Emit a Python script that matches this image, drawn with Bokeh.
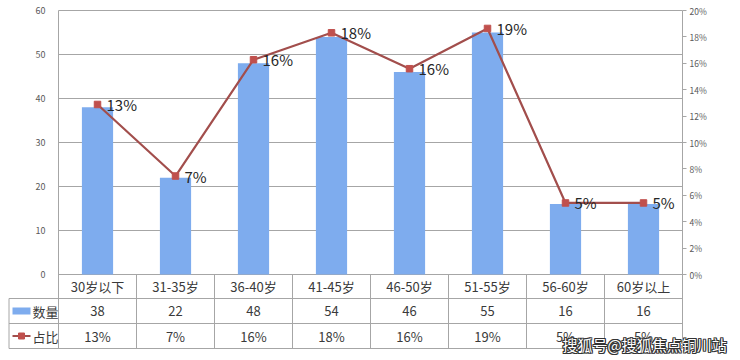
from bokeh.plotting import figure
from bokeh.models import Range1d, LinearAxis, FixedTicker, PrintfTickFormatter
from bokeh.embed import file_html
from bokeh.resources import INLINE
from bokeh.core.properties import value

# ---------------- data ----------------
categories = ["30岁以下", "31-35岁", "36-40岁", "41-45岁", "46-50岁", "51-55岁", "56-60岁", "60岁以上"]
counts = [38, 22, 48, 54, 46, 55, 16, 16]
shares = [12.88, 7.46, 16.27, 18.31, 15.59, 18.64, 5.42, 5.42]
left_ticks = [0, 10, 20, 30, 40, 50, 60]
right_ticks = [0, 2, 4, 6, 8, 10, 12, 14, 16, 18, 20]
row_names = ["数量", "占比"]
watermark = "搜狐号@搜狐焦点铜川站"

FONT = "Noto Sans CJK SC"
GRID = "#A6A6A6"
BAR = "#7EACEE"
LINE = "#A24E4C"
MARK = "#C0504D"
TXT = "#3A3A3A"
AX = "#595959"

n = len(categories)
xs = [i + 0.5 for i in range(n)]
share_labels = ["{:.0f}%".format(v) for v in shares]

# geometry (pixels on the canvas)
W, H = 732, 356
X0, Y0 = 58, 274        # canvas position of (0, 0)
PLOT_PX = 264           # height of 0..60
COL_PX = 78             # width of one category column
LEFT_COL = 50           # width of the legend column of the table
ROW_PX = [24, 25, 25]   # header row, count row, share row

u = PLOT_PX / left_ticks[-1]              # px per count unit
k = right_ticks[-1] / left_ticks[-1]      # pct units per count unit
row_edges = [0]
for r in ROW_PX:
    row_edges.append(row_edges[-1] - r / u)
row_mid = [(row_edges[i] + row_edges[i + 1]) / 2 for i in range(3)]
col_left = -(LEFT_COL - 0.5) / COL_PX

p = figure(width=W, height=H,
           x_range=Range1d(-X0 / COL_PX, (W - X0) / COL_PX),
           y_range=Range1d(-(H - Y0) / u, Y0 / u),
           output_backend="svg", toolbar_location=None,
           min_border=0, min_border_left=0, min_border_right=0, min_border_top=0, min_border_bottom=0,
           x_axis_location=None, y_axis_location=None)
p.outline_line_color = None
p.grid.visible = False
p.background_fill_color = "white"
p.border_fill_color = "white"

# left axis placed at x = 0
la = LinearAxis(ticker=FixedTicker(ticks=left_ticks), fixed_location=0,
                bounds=(row_edges[-1], left_ticks[-1]))
la.axis_line_color = GRID
la.major_tick_line_color = None
la.minor_tick_line_color = None
la.major_label_standoff = 7
la.major_label_text_font = FONT
la.major_label_text_font_size = "9px"
la.major_label_text_color = AX
p.add_layout(la, "left")

# right axis placed at x = n
p.extra_y_ranges = {"pct": Range1d(-(H - Y0) / u * k, Y0 / u * k)}
ra = LinearAxis(y_range_name="pct", ticker=FixedTicker(ticks=right_ticks), fixed_location=n,
                formatter=PrintfTickFormatter(format="%d%%"),
                bounds=(row_edges[-1] * k, right_ticks[-1]))
ra.axis_line_color = GRID
ra.major_tick_line_color = GRID
ra.major_tick_out = 4
ra.major_tick_in = 0
ra.minor_tick_line_color = None
ra.major_label_standoff = 3
ra.major_label_text_font = FONT
ra.major_label_text_font_size = "8.5px"
ra.major_label_text_color = AX
p.add_layout(ra, "right")

# horizontal grid lines
p.segment(x0=[0] * len(left_ticks), y0=left_ticks, x1=[n] * len(left_ticks), y1=left_ticks,
          line_color=GRID, line_width=1)

p.vbar(x=xs, top=counts, width=0.4, color=BAR, line_color=None)
p.line(xs, shares, y_range_name="pct", line_color=LINE, line_width=2.2)
p.scatter(xs, shares, y_range_name="pct", marker="square", size=6.5, color=MARK)
p.text(x=xs, y=shares, text=share_labels, y_range_name="pct", x_offset=9,
       text_baseline="middle", text_align="left", text_font=value(FONT),
       text_font_size="15px", text_color="#262626")

# ---------------- data table ----------------
bounds = list(range(1, n))
p.segment(x0=bounds, y0=[row_edges[0]] * len(bounds), x1=bounds, y1=[row_edges[-1]] * len(bounds),
          line_color=GRID, line_width=1)
p.segment(x0=[col_left] * 3, y0=row_edges[1:], x1=[n] * 3, y1=row_edges[1:], line_color=GRID, line_width=1)
p.segment(x0=[col_left], y0=[row_edges[1]], x1=[col_left], y1=[row_edges[-1]], line_color=GRID, line_width=1)

p.text(x=xs, y=[row_mid[0]] * n, text=categories, text_align="center", text_baseline="middle",
       text_font=value(FONT), text_font_size="13px", text_color=TXT)
p.text(x=xs, y=[row_mid[1]] * n, text=[str(c) for c in counts], text_align="center", text_baseline="middle",
       text_font=value(FONT), text_font_size="13px", text_color=TXT)
p.text(x=xs, y=[row_mid[2]] * n, text=share_labels, text_align="center", text_baseline="middle",
       text_font=value(FONT), text_font_size="13px", text_color=TXT)

name_x = -(LEFT_COL - 24) / COL_PX
p.text(x=[name_x] * 2, y=row_mid[1:], text=row_names, text_align="left", text_baseline="middle",
       text_font=value(FONT), text_font_size="13px", text_color=TXT)
key_l = -(LEFT_COL - 4) / COL_PX
key_r = -(LEFT_COL - 22) / COL_PX
p.quad(left=[key_l], right=[key_r], top=[row_mid[1] + 3.5 / u], bottom=[row_mid[1] - 3.5 / u],
       color=BAR, line_color=None)
p.segment(x0=[key_l], y0=[row_mid[2]], x1=[key_r], y1=[row_mid[2]], line_color=LINE, line_width=2)
p.scatter(x=[(key_l + key_r) / 2], y=[row_mid[2]], marker="square", size=6, color=MARK)

# watermark (white text with a dark outline)
wm_x = (562 - X0) / COL_PX
wm_y = (Y0 - 344) / u
for dx, dy in [(-1, -1), (-1, 0), (-1, 1), (0, -1), (0, 1), (1, -1), (1, 0), (1, 1), (0, 0)]:
    p.text(x=[wm_x], y=[wm_y], text=[watermark], x_offset=dx, y_offset=dy, text_align="left",
           text_baseline="middle", text_font=value(FONT), text_font_size="15px",
           text_color="white" if (dx, dy) == (0, 0) else "#333333")

open("out.html", "w").write(file_html(p, INLINE))
